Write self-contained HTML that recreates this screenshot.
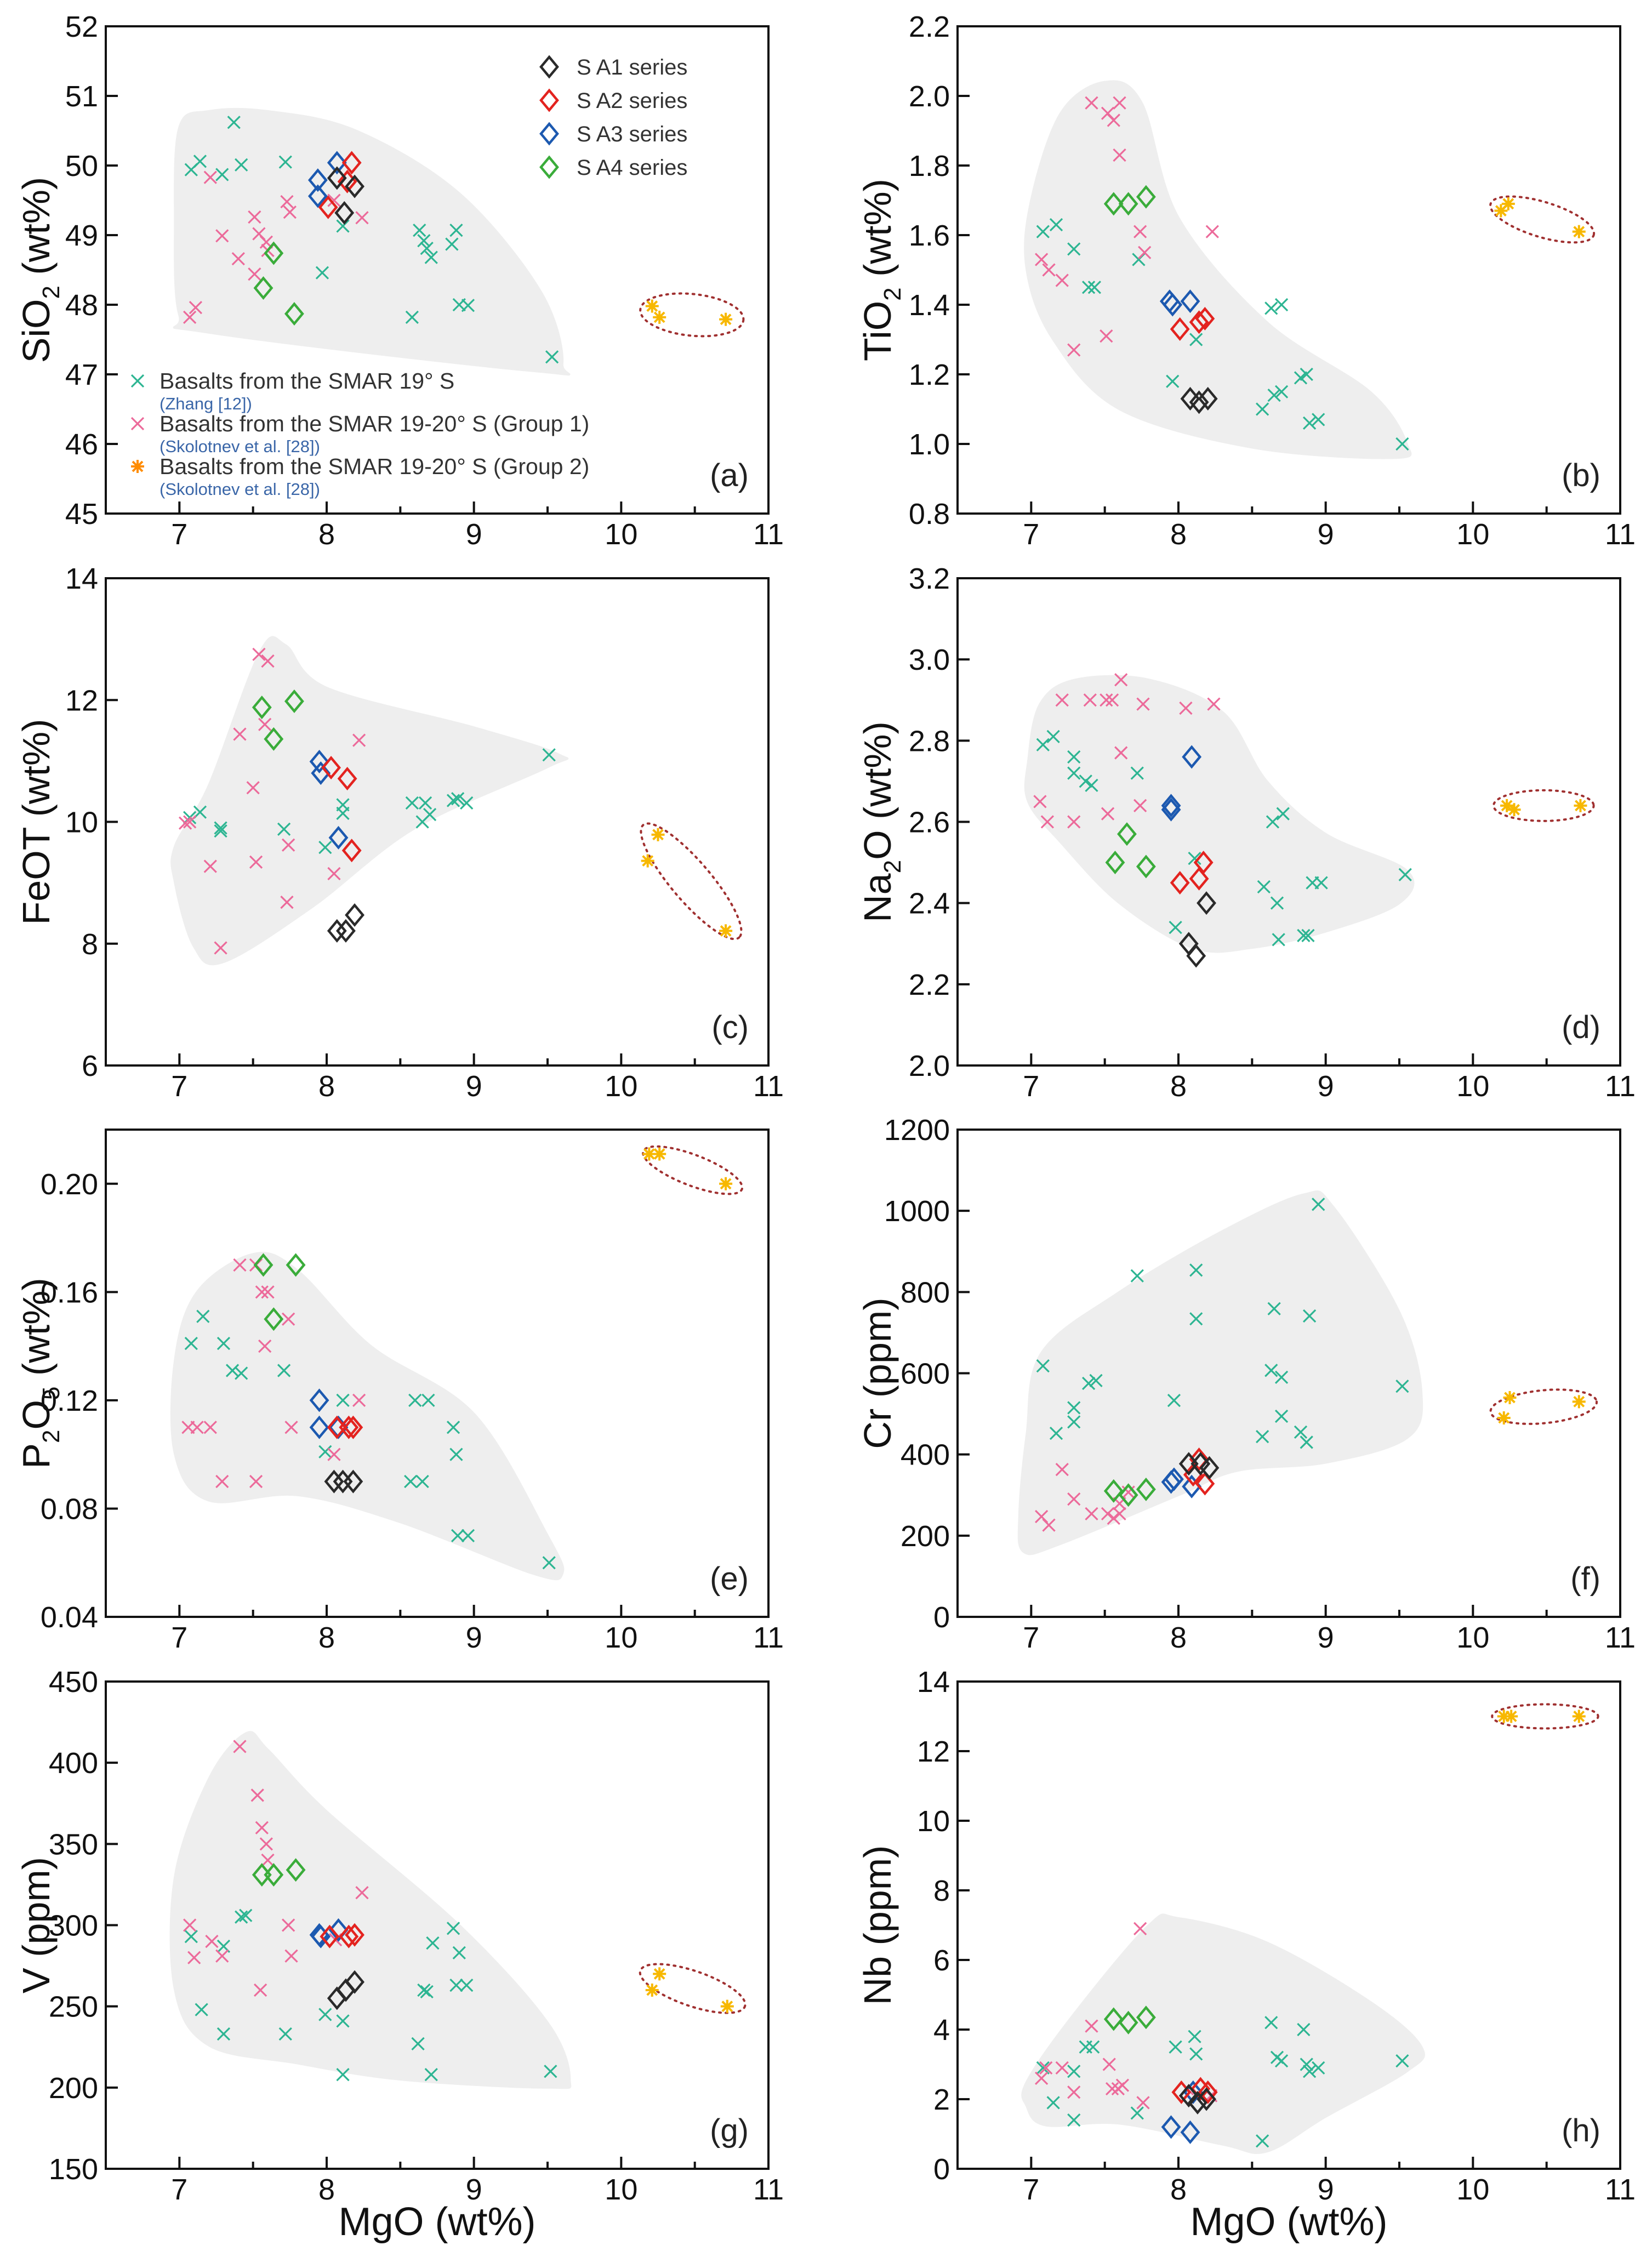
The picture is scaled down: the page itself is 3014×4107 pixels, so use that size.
<!DOCTYPE html>
<html><head><meta charset="utf-8">
<style>
html,body{margin:0;padding:0;background:#fff;}
svg{display:block;font-family:"Liberation Sans",Arial,sans-serif;}
</style></head>
<body>
<svg id="fig" xmlns="http://www.w3.org/2000/svg" width="3014" height="4107" viewBox="0 0 3014 4107">
<rect x="0" y="0" width="3014" height="4107" fill="#fff"/>
</svg>
<script>
// ===== x axis (shared) =====
const xTicks = [7, 8, 9, 10, 11];
const xMinor = [7.5, 8.5, 9.5, 10.5];

// ===== (a) SiO2 =====
const aYTicks = [45, 46, 47, 48, 49, 50, 51, 52];
const aZhang = [[7.08,49.94],[7.14,50.06],[7.29,49.87],[7.37,50.62],[7.42,50.01],[7.72,50.05],[7.97,48.46],[8.11,49.13],[8.63,49.07],[8.66,48.92],[8.68,48.81],[8.71,48.68],[8.85,48.87],[8.88,49.07],[8.9,48.0],[8.96,47.99],[8.58,47.82],[9.53,47.25]];
const aGroup1 = [[7.21,49.83],[7.29,48.99],[7.4,48.66],[7.51,49.26],[7.54,49.02],[7.59,48.9],[7.6,48.78],[7.51,48.44],[7.73,49.48],[7.75,49.33],[7.07,47.82],[7.11,47.96],[8.05,49.5],[8.24,49.25]];
const aGroup2 = [[10.21,47.98],[10.26,47.82],[10.71,47.79]];
const aSA1 = [[8.07,49.82],[8.19,49.7],[8.12,49.32]];
const aSA2 = [[8.17,50.04],[8.14,49.77],[8.01,49.4]];
const aSA3 = [[8.07,50.04],[7.94,49.79],[7.94,49.56]];
const aSA4 = [[7.64,48.74],[7.57,48.24],[7.78,47.87]];
const aField = [[7.0,50.55],[7.2,50.78],[7.6,50.78],[8.2,50.5],[8.9,49.6],[9.45,48.2],[9.6,47.15],[9.4,47.05],[7.2,47.6],[7.0,47.85],[6.97,49.2]];
const aLoop = [[10.13,47.93],[10.83,47.78]];

// ===== (b) TiO2 =====
const bYTicks = [0.8, 1.0, 1.2, 1.4, 1.6, 1.8, 2.0, 2.2];
const bZhang = [[7.08,1.61],[7.17,1.63],[7.29,1.56],[7.39,1.45],[7.43,1.45],[7.73,1.53],[7.96,1.18],[8.12,1.30],[8.57,1.10],[8.65,1.14],[8.70,1.15],[8.63,1.39],[8.70,1.40],[8.83,1.19],[8.87,1.20],[8.89,1.06],[8.95,1.07],[9.52,1.0]];
const bGroup1 = [[7.07,1.53],[7.12,1.50],[7.21,1.47],[7.29,1.27],[7.41,1.98],[7.52,1.95],[7.56,1.93],[7.60,1.98],[7.60,1.83],[7.51,1.31],[7.74,1.61],[7.77,1.55],[8.23,1.61]];
const bGroup2 = [[10.19,1.67],[10.24,1.69],[10.72,1.61]];
const bSA1 = [[8.08,1.13],[8.14,1.12],[8.2,1.13]];
const bSA2 = [[8.01,1.33],[8.14,1.35],[8.18,1.36]];
const bSA3 = [[7.94,1.41],[7.96,1.40],[8.08,1.41]];
const bSA4 = [[7.56,1.69],[7.66,1.69],[7.78,1.71]];
const bField = [[7.0,1.7],[7.2,1.95],[7.5,2.04],[7.75,1.98],[8.0,1.65],[8.6,1.35],[9.3,1.15],[9.55,1.0],[9.45,0.96],[8.5,0.99],[7.6,1.1],[7.15,1.3],[6.97,1.5]];
const bLoop = [[10.12,1.69],[10.82,1.60]];

// ===== (c) FeOT =====
const cYTicks = [6, 8, 10, 12, 14];
const cZhang = [[7.07,10.07],[7.14,10.16],[7.28,9.9],[7.28,9.85],[7.71,9.88],[8.11,10.28],[8.11,10.14],[7.99,9.58],[8.58,10.31],[8.67,10.31],[8.70,10.12],[8.65,10.0],[8.86,10.35],[8.89,10.38],[8.95,10.31],[9.51,11.1]];
const cGroup1 = [[7.04,9.98],[7.07,10.0],[7.21,9.27],[7.28,7.93],[7.41,11.44],[7.50,10.56],[7.52,9.34],[7.54,12.75],[7.6,12.64],[7.58,11.6],[7.73,8.68],[7.74,9.62],[8.05,9.15],[8.22,11.34]];
const cGroup2 = [[10.18,9.36],[10.25,9.79],[10.71,8.21]];
const cSA1 = [[8.07,8.21],[8.13,8.21],[8.19,8.47]];
const cSA2 = [[8.03,10.89],[8.14,10.71],[8.17,9.53]];
const cSA3 = [[7.95,10.99],[7.96,10.80],[8.08,9.74]];
const cSA4 = [[7.56,11.88],[7.64,11.36],[7.78,11.98]];
const cField = [[6.97,9.6],[7.2,10.6],[7.55,12.8],[7.72,12.9],[8.0,12.2],[9.0,11.55],[9.58,11.1],[9.5,10.9],[8.6,9.9],[7.9,8.6],[7.3,7.7],[7.1,7.95],[6.97,9.0]];
const cLoop = [[10.15,9.95],[10.8,8.1]];

// ===== (d) Na2O =====
const dYTicks = [2.0, 2.2, 2.4, 2.6, 2.8, 3.0, 3.2];
const dZhang = [[7.08,2.79],[7.15,2.81],[7.29,2.76],[7.29,2.72],[7.37,2.70],[7.41,2.69],[7.72,2.72],[7.98,2.34],[8.11,2.51],[8.64,2.60],[8.71,2.62],[8.58,2.44],[8.67,2.40],[8.68,2.31],[8.85,2.32],[8.88,2.32],[8.91,2.45],[8.97,2.45],[9.54,2.47]];
const dGroup1 = [[7.06,2.65],[7.11,2.60],[7.21,2.90],[7.29,2.60],[7.40,2.90],[7.51,2.90],[7.55,2.90],[7.61,2.95],[7.61,2.77],[7.52,2.62],[7.74,2.64],[7.76,2.89],[8.05,2.88],[8.24,2.89]];
const dGroup2 = [[10.23,2.64],[10.28,2.63],[10.73,2.64]];
const dSA1 = [[8.19,2.40],[8.07,2.30],[8.12,2.27]];
const dSA2 = [[8.01,2.45],[8.14,2.46],[8.17,2.50]];
const dSA3 = [[7.95,2.64],[7.95,2.63],[8.09,2.76]];
const dSA4 = [[7.65,2.57],[7.57,2.50],[7.78,2.49]];
const dField = [[6.98,2.75],[7.06,2.89],[7.3,2.95],[7.8,2.95],[8.3,2.87],[8.6,2.7],[9.0,2.57],[9.55,2.48],[9.5,2.40],[9.0,2.33],[8.5,2.29],[8.1,2.29],[7.6,2.4],[7.2,2.55],[6.98,2.65]];
const dLoop = [[10.14,2.64],[10.82,2.64]];

// ===== (e) P2O5 =====
const eYTicks = [0.04, 0.08, 0.12, 0.16, 0.20];
const eZhang = [[7.08,0.141],[7.16,0.151],[7.30,0.141],[7.36,0.131],[7.42,0.13],[7.71,0.131],[7.99,0.101],[8.11,0.12],[8.57,0.09],[8.65,0.09],[8.6,0.12],[8.69,0.12],[8.86,0.11],[8.88,0.10],[8.89,0.07],[8.96,0.07],[9.51,0.06]];
const eGroup1 = [[7.06,0.11],[7.12,0.11],[7.21,0.11],[7.29,0.09],[7.41,0.17],[7.52,0.17],[7.56,0.16],[7.6,0.16],[7.58,0.14],[7.52,0.09],[7.74,0.15],[7.76,0.11],[8.05,0.10],[8.22,0.12]];
const eGroup2 = [[10.19,0.211],[10.26,0.211],[10.71,0.20]];
const eSA1 = [[8.05,0.09],[8.11,0.09],[8.18,0.09]];
const eSA2 = [[8.07,0.11],[8.15,0.11],[8.18,0.11]];
const eSA3 = [[7.95,0.12],[7.95,0.11],[8.08,0.11]];
const eSA4 = [[7.57,0.17],[7.64,0.15],[7.79,0.17]];
const eField = [[6.97,0.135],[7.12,0.16],[7.5,0.174],[7.8,0.168],[8.3,0.14],[9.0,0.115],[9.5,0.07],[9.6,0.056],[9.4,0.056],[8.5,0.075],[7.8,0.085],[7.2,0.083],[6.97,0.1]];
const eLoop = [[10.15,0.212],[10.82,0.198]];

// ===== (f) Cr =====
const fYTicks = [0, 200, 400, 600, 800, 1000, 1200];
const fZhang = [[7.08,618],[7.17,452],[7.29,480],[7.29,515],[7.39,575],[7.44,582],[7.72,840],[7.97,533],[8.12,854],[8.12,734],[8.57,444],[8.63,607],[8.65,759],[8.7,590],[8.7,494],[8.83,455],[8.87,430],[8.89,741],[8.95,1016],[9.52,568]];
const fGroup1 = [[7.07,247],[7.12,226],[7.21,363],[7.29,290],[7.41,254],[7.52,254],[7.56,243],[7.6,254],[7.6,279],[7.66,307]];
const fGroup2 = [[10.21,490],[10.25,540],[10.72,530]];
const fSA1 = [[8.07,377],[8.15,377],[8.21,367]];
const fSA2 = [[8.14,388],[8.18,328],[8.1,350]];
const fSA3 = [[7.95,332],[7.97,339],[8.09,321]];
const fSA4 = [[7.56,310],[7.66,300],[7.78,314]];
const fField = [[6.92,250],[6.97,450],[7.07,650],[7.6,800],[8.3,950],[8.85,1040],[9.05,1010],[9.5,750],[9.65,550],[9.55,440],[9.0,380],[8.4,360],[8.0,300],[7.2,180],[6.95,160]];
const fLoop = [[10.12,505],[10.84,530]];

// ===== (g) V =====
const gYTicks = [150, 200, 250, 300, 350, 400, 450];
const gZhang = [[7.08,293],[7.15,248],[7.3,233],[7.3,287],[7.42,305],[7.45,306],[7.72,233],[7.99,245],[8.11,208],[8.11,241],[8.62,227],[8.66,260],[8.68,259],[8.71,208],[8.72,289],[8.86,298],[8.88,263],[8.9,283],[8.95,263],[9.52,210]];
const gGroup1 = [[7.07,300],[7.1,280],[7.22,290],[7.29,281],[7.41,410],[7.53,380],[7.55,260],[7.56,360],[7.59,350],[7.6,340],[7.74,300],[7.76,281],[8.06,291],[8.24,320]];
const gGroup2 = [[10.21,260],[10.26,270],[10.72,250]];
const gSA1 = [[8.07,255],[8.13,260],[8.19,265]];
const gSA2 = [[8.02,293],[8.15,293],[8.19,294]];
const gSA3 = [[7.95,294],[7.96,293],[8.08,297]];
const gSA4 = [[7.56,331],[7.64,331],[7.79,334]];
const gField = [[6.97,330],[7.2,390],[7.45,418],[7.6,408],[8.0,370],[8.9,300],[9.5,240],[9.65,205],[9.5,200],[8.5,205],[7.8,215],[7.2,226],[6.97,260]];
const gLoop = [[10.13,272],[10.84,250]];

// ===== (h) Nb =====
const hYTicks = [0, 2, 4, 6, 8, 10, 12, 14];
const hZhang = [[7.08,2.9],[7.15,1.9],[7.29,2.8],[7.29,1.4],[7.37,3.5],[7.42,3.5],[7.72,1.6],[7.98,3.5],[8.11,3.8],[8.12,3.3],[8.57,0.8],[8.63,4.2],[8.67,3.2],[8.7,3.1],[8.85,4.0],[8.87,3.0],[8.89,2.8],[8.95,2.9],[9.52,3.1]];
const hGroup1 = [[7.07,2.6],[7.1,2.9],[7.21,2.9],[7.29,2.2],[7.41,4.1],[7.53,3.0],[7.55,2.3],[7.59,2.3],[7.62,2.4],[7.74,6.9],[7.76,1.9],[8.06,2.3],[8.22,2.1]];
const hGroup2 = [[10.21,13.0],[10.26,13.0],[10.72,13.0]];
const hSA1 = [[8.07,2.1],[8.13,1.9],[8.19,2.0]];
const hSA2 = [[8.02,2.2],[8.15,2.3],[8.2,2.2]];
const hSA3 = [[7.95,1.2],[8.08,1.05],[8.1,2.2]];
const hSA4 = [[7.56,4.3],[7.66,4.2],[7.78,4.35]];
const hField = [[6.97,2.5],[7.3,4.5],[7.8,7.0],[8.0,7.2],[8.6,6.5],[9.3,4.8],[9.65,3.5],[9.55,2.8],[9.0,1.5],[8.6,0.5],[8.3,0.7],[7.6,1.3],[7.1,1.25],[6.97,1.8]];
const hLoop = [[10.13,13.0],[10.85,13.0]];

// ===== drawing =====
const NS = 'http://www.w3.org/2000/svg';
const svg = document.getElementById('fig');
const COL = {zhang:'#2db592', g1:'#ec6a9a', g2:'#f7b800', sa1:'#2a2a2a', sa2:'#e3231f', sa3:'#1c59b0', sa4:'#3aac3a'};
const XMIN = 6.5, XMAX = 11;
const W = 1209, H = 889;
const COLX = [193, 1747];
const ROWY = [48, 1055, 2061, 3068];
const TITLEX = [90, 1625];

function mk(tag, attrs, parent) {
  const e = document.createElementNS(NS, tag);
  for (const k in attrs) e.setAttribute(k, attrs[k]);
  (parent || svg).appendChild(e);
  return e;
}

const panels = [
  {key:'a', col:0, row:0, yMin:45, yMax:52, ticks:aYTicks, dec:0, title:['SiO',['2'],' (wt%)'], zh:aZhang, g1:aGroup1, g2:aGroup2, s:[aSA1,aSA2,aSA3,aSA4], field:aField, loop:aLoop, minor:38, xlab:false},
  {key:'b', col:1, row:0, yMin:0.8, yMax:2.2, ticks:bYTicks, dec:1, title:['TiO',['2'],' (wt%)'], zh:bZhang, g1:bGroup1, g2:bGroup2, s:[bSA1,bSA2,bSA3,bSA4], field:bField, loop:bLoop, minor:32, xlab:false},
  {key:'c', col:0, row:1, yMin:6, yMax:14, ticks:cYTicks, dec:0, title:['FeOT (wt%)'], zh:cZhang, g1:cGroup1, g2:cGroup2, s:[cSA1,cSA2,cSA3,cSA4], field:cField, loop:cLoop, minor:36, xlab:false},
  {key:'d', col:1, row:1, yMin:2.0, yMax:3.2, ticks:dYTicks, dec:1, title:['Na',['2'],'O (wt%)'], zh:dZhang, g1:dGroup1, g2:dGroup2, s:[dSA1,dSA2,dSA3,dSA4], field:dField, loop:dLoop, minor:28, xlab:false},
  {key:'e', col:0, row:2, yMin:0.04, yMax:0.22, ticks:eYTicks, dec:2, title:['P',['2'],'O',['5'],' (wt%)'], zh:eZhang, g1:eGroup1, g2:eGroup2, s:[eSA1,eSA2,eSA3,eSA4], field:eField, loop:eLoop, minor:28, xlab:false},
  {key:'f', col:1, row:2, yMin:0, yMax:1200, ticks:fYTicks, dec:0, title:['Cr (ppm)'], zh:fZhang, g1:fGroup1, g2:fGroup2, s:[fSA1,fSA2,fSA3,fSA4], field:fField, loop:fLoop, minor:30, xlab:false},
  {key:'g', col:0, row:3, yMin:150, yMax:450, ticks:gYTicks, dec:0, title:['V (ppm)'], zh:gZhang, g1:gGroup1, g2:gGroup2, s:[gSA1,gSA2,gSA3,gSA4], field:gField, loop:gLoop, minor:32, xlab:true},
  {key:'h', col:1, row:3, yMin:0, yMax:14, ticks:hYTicks, dec:0, title:['Nb (ppm)'], zh:hZhang, g1:hGroup1, g2:hGroup2, s:[hSA1,hSA2,hSA3,hSA4], field:hField, loop:hLoop, minor:22, xlab:true}
];

function smoothPath(pts) {
  const n = pts.length;
  let d = 'M' + pts[0][0].toFixed(1) + ',' + pts[0][1].toFixed(1);
  for (let i = 0; i < n; i++) {
    const p0 = pts[(i - 1 + n) % n], p1 = pts[i], p2 = pts[(i + 1) % n], p3 = pts[(i + 2) % n];
    const c1 = [p1[0] + (p2[0] - p0[0]) / 6, p1[1] + (p2[1] - p0[1]) / 6];
    const c2 = [p2[0] - (p3[0] - p1[0]) / 6, p2[1] - (p3[1] - p1[1]) / 6];
    d += 'C' + c1[0].toFixed(1) + ',' + c1[1].toFixed(1) + ' ' + c2[0].toFixed(1) + ',' + c2[1].toFixed(1) + ' ' + p2[0].toFixed(1) + ',' + p2[1].toFixed(1);
  }
  return d + 'Z';
}

function cross(g, x, y, color) {
  const s = 11;
  const p = mk('path', {d:`M${x-s},${y-s}L${x+s},${y+s}M${x+s},${y-s}L${x-s},${y+s}`, stroke:color, 'stroke-width':3.2, fill:'none'}, g);
  
  
}
function star(g, x, y, color) {
  const s = 12;
  const p = mk('path', {d:`M${x-s},${y}L${x+s},${y}M${x},${y-s}L${x},${y+s}M${x-9},${y-9}L${x+9},${y+9}M${x+9},${y-9}L${x-9},${y+9}`, stroke:color, 'stroke-width':4, fill:'none'}, g);
  
  
}
function diamond(g, x, y, color) {
  const w = 15, h = 18;
  const p = mk('path', {d:`M${x},${y-h}L${x+w},${y}L${x},${y+h}L${x-w},${y}Z`, stroke:color, 'stroke-width':4.5, fill:'none'}, g);
  
  
}

panels.forEach(P => {
  const L = COLX[P.col], T = ROWY[P.row], R = L + W, B = T + H;
  const sx = v => L + (v - XMIN) / (XMAX - XMIN) * W;
  const sy = v => B - (v - P.yMin) / (P.yMax - P.yMin) * H;
  const g = mk('g', {});
  
  

  const fp = P.field.map(p => [sx(p[0]), sy(p[1])]);
  const field = mk('path', {d:smoothPath(fp), fill:'#eeeeee', stroke:'#eeeeee', 'stroke-width':4, 'stroke-linejoin':'round'}, g);
  
  

  const x1 = sx(P.loop[0][0]), y1 = sy(P.loop[0][1]), x2 = sx(P.loop[1][0]), y2 = sy(P.loop[1][1]);
  const cx = (x1 + x2) / 2, cy = (y1 + y2) / 2;
  const rx = Math.hypot(x2 - x1, y2 - y1) / 2;
  const ang = Math.atan2(y2 - y1, x2 - x1) * 180 / Math.PI;
  const loop = mk('ellipse', {cx:cx, cy:cy, rx:rx, ry:P.minor, transform:`rotate(${ang} ${cx} ${cy})`, fill:'none', stroke:'#a03030', 'stroke-width':4, 'stroke-dasharray':'3 9', 'stroke-linecap':'round'}, g);
  
  

  P.zh.forEach(p => cross(g, sx(p[0]), sy(p[1]), COL.zhang));
  P.g1.forEach(p => cross(g, sx(p[0]), sy(p[1]), COL.g1));
  P.g2.forEach(p => star(g, sx(p[0]), sy(p[1]), COL.g2));
  const sc = [COL.sa1, COL.sa2, COL.sa3, COL.sa4];
  [3, 2, 1, 0].forEach(i => P.s[i].forEach(p => diamond(g, sx(p[0]), sy(p[1]), sc[i])));

  const frame = mk('rect', {x:L, y:T, width:W, height:H, fill:'none', stroke:'#111', 'stroke-width':4}, g);
  
  

  xTicks.forEach(v => {
    const x = sx(v);
    mk('line', {x1:x, y1:B, x2:x, y2:B - 22, stroke:'#111', 'stroke-width':4}, g);
    const t = mk('text', {x:x, y:B + 56, 'font-size':54, 'text-anchor':'middle', fill:'#111'}, g);
    t.textContent = v;
    
    
  });
  xMinor.forEach(v => {
    const x = sx(v);
    mk('line', {x1:x, y1:B, x2:x, y2:B - 13, stroke:'#111', 'stroke-width':4}, g);
  });
  P.ticks.forEach(v => {
    const y = sy(v);
    mk('line', {x1:L, y1:y, x2:L + 22, y2:y, stroke:'#111', 'stroke-width':4}, g);
    const t = mk('text', {x:L - 14, y:y + 19, 'font-size':54, 'text-anchor':'end', fill:'#111'}, g);
    t.textContent = v.toFixed(P.dec);
    
    
  });

  const lt = mk('text', {x:R - 36, y:B - 50, 'font-size':58, 'text-anchor':'end', fill:'#222'}, g);
  lt.textContent = '(' + P.key + ')';
  
  

  const tx = TITLEX[P.col], ty = (T + B) / 2;
  const yt = mk('text', {x:tx, y:ty, 'font-size':70, 'text-anchor':'middle', fill:'#111', transform:`rotate(-90 ${tx} ${ty})`}, g);
  
  
  P.title.forEach(part => {
    const ts = document.createElementNS(NS, 'tspan');
    if (Array.isArray(part)) {
      ts.textContent = part[0];
      ts.setAttribute('font-size', '44');
      ts.setAttribute('baseline-shift', '-18');
    } else ts.textContent = part;
    yt.appendChild(ts);
  });

  if (P.xlab) {
    const xt = mk('text', {x:(L + R) / 2, y:4078, 'font-size':72, 'text-anchor':'middle', fill:'#111'}, g);
    xt.textContent = 'MgO (wt%)';
    
    
  }
});

// ===== legend in panel (a) =====
const lg = mk('g', {});


const saNames = ['S A1 series', 'S A2 series', 'S A3 series', 'S A4 series'];
const saCols = [COL.sa1, COL.sa2, COL.sa3, COL.sa4];
saNames.forEach((n, i) => {
  const y = 122 + i * 61;
  diamond(lg, 1002, y, saCols[i]);
  const t = mk('text', {x:1052, y:y + 14, 'font-size':40, fill:'#333'}, lg);
  t.textContent = n;
  
  
});
const refRows = [
  ['Basalts from the SMAR 19°  S', '(Zhang [12])', 'zhang'],
  ['Basalts from the SMAR 19-20°  S  (Group 1)', '(Skolotnev et al. [28])', 'g1'],
  ['Basalts from the SMAR 19-20°  S  (Group 2)', '(Skolotnev et al. [28])', 'g2']
];
refRows.forEach((r, i) => {
  const y = 709 + i * 78;
  if (r[2] === 'g2') star(lg, 251, y - 14, '#ff8c00'); else cross(lg, 251, y - 14, COL[r[2]]);
  const t = mk('text', {x:291, y:y, 'font-size':41, fill:'#333'}, lg);
  t.textContent = r[0];
  
  
  const s = mk('text', {x:291, y:y + 38, 'font-size':31, fill:'#3a66a8'}, lg);
  s.textContent = r[1];
  
  
});
</script>
</body></html>
